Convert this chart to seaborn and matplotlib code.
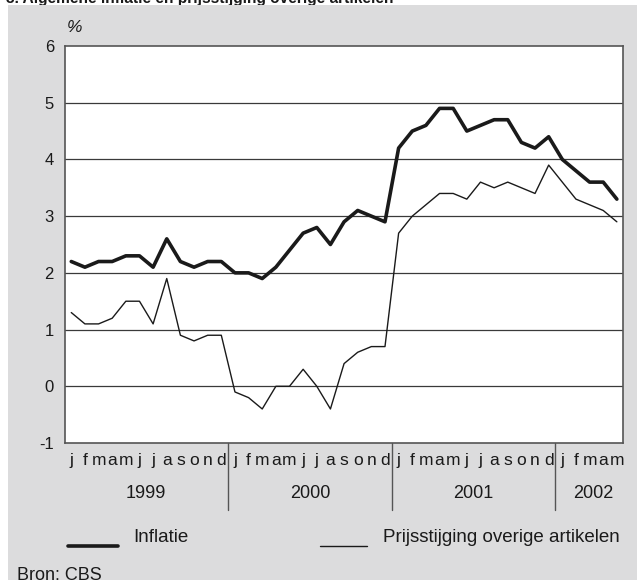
import numpy as np
import pandas as pd
import matplotlib
matplotlib.use("Agg")
import matplotlib.pyplot as plt
import seaborn as sns
from matplotlib.patches import Rectangle
import matplotlib.transforms as mtrans

# ---------------- data ----------------
month_labels = ['j', 'f', 'm', 'a', 'm', 'j', 'j', 'a', 's', 'o', 'n', 'd'] * 3 + ['j', 'f', 'm', 'a', 'm']
year_labels = ['1999', '2000', '2001', '2002']
inflatie = [2.2, 2.1, 2.2, 2.2, 2.3, 2.3, 2.1, 2.6, 2.2, 2.1, 2.2, 2.2,
            2.0, 2.0, 1.9, 2.1, 2.4, 2.7, 2.8, 2.5, 2.9, 3.1, 3.0, 2.9,
            4.2, 4.5, 4.6, 4.9, 4.9, 4.5, 4.6, 4.7, 4.7, 4.3, 4.2, 4.4,
            4.0, 3.8, 3.6, 3.6, 3.3]
overige = [1.3, 1.1, 1.1, 1.2, 1.5, 1.5, 1.1, 1.9, 0.9, 0.8, 0.9, 0.9,
           -0.1, -0.2, -0.4, 0.0, 0.0, 0.3, 0.0, -0.4, 0.4, 0.6, 0.7, 0.7,
           2.7, 3.0, 3.2, 3.4, 3.4, 3.3, 3.6, 3.5, 3.6, 3.5, 3.4, 3.9,
           3.6, 3.3, 3.2, 3.1, 2.9]
series_names = ['Inflatie', 'Prijsstijging overige artikelen']
y_ticks = [-1, 0, 1, 2, 3, 4, 5, 6]

n = len(inflatie)
df = pd.DataFrame({
    'maand': np.arange(n).tolist() * 2,
    'waarde': inflatie + overige,
    'reeks': [series_names[0]] * n + [series_names[1]] * n,
})

# ---------------- style ----------------
sns.set_theme(style="white")
plt.rcParams['font.family'] = ['Liberation Sans', 'DejaVu Sans']

W, H = 637, 580
fig = plt.figure(figsize=(W / 100, H / 100), dpi=100)
fig.patch.set_facecolor('white')

def fy(ypix):
    return 1 - ypix / H

def fx(xpix):
    return xpix / W

GRAY = '#dcdcdd'
INK = '#1a1a1a'

# title (mostly clipped at top, as in reference)
fig.text(fx(6), fy(3), '3. Algemene inflatie en prijsstijging overige artikelen',
         ha='left', va='baseline', fontsize=11.2, fontweight='bold', color=INK, zorder=0)
# gray panel
fig.add_artist(Rectangle((fx(8), 0), 1 - fx(8), fy(5), transform=fig.transFigure,
                         facecolor=GRAY, edgecolor='none', zorder=0.5))

left, right, top, bottom = 65, 623, 46, 443
ax = fig.add_axes([fx(left), fy(bottom), fx(right) - fx(left), fy(top) - fy(bottom)])
ax.set_zorder(1)
ax.set_facecolor('white')

sns.lineplot(data=df, x='maand', y='waarde', hue='reeks', size='reeks',
             sizes={series_names[0]: 2.6, series_names[1]: 1.0},
             palette={series_names[0]: INK, series_names[1]: INK},
             legend=False, ax=ax, zorder=3)

x0 = -0.46
x1 = n - 1 + 0.45
ax.set_xlim(x0, x1)
ax.set_ylim(-1, 6)

for yv in y_ticks[1:-1]:
    ax.axhline(yv, color='#3a3a3a', lw=0.9, zorder=1)

for sp in ax.spines.values():
    sp.set_color('#555555')
    sp.set_linewidth(1.2)
    sp.set_visible(True)

ax.set_yticks(y_ticks)
ax.set_yticklabels([str(v) for v in y_ticks], fontsize=12, color=INK)
ax.tick_params(axis='y', length=0, pad=8)

ax.set_xticks(np.arange(n))
ax.set_xticklabels(month_labels, fontsize=12.5, color=INK)
ax.tick_params(axis='x', direction='out', length=4, width=0.9, color='#555555', pad=3)
ax.set_xlabel('')
ax.set_ylabel('')

# year separators and year labels
trans = mtrans.blended_transform_factory(ax.transData, fig.transFigure)
for sep in [11.5, 23.5, 35.5]:
    ax.plot([sep, sep], [fy(bottom), fy(510)], transform=trans, color='#555555',
            lw=1.0, clip_on=False)
year_centers = [5.5, 17.5, 29.5, 38.3]
for yc, lab in zip(year_centers, year_labels):
    ax.text(yc, fy(494), lab, transform=trans, ha='center', va='center',
            fontsize=13, color=INK)

# percent sign
fig.text(fx(75), fy(28), '%', ha='center', va='center', fontsize=12.5,
         style='italic', color=INK, zorder=3)

# legend
fig.add_artist(plt.Line2D([fx(68), fx(118)], [fy(546), fy(546)], transform=fig.transFigure,
                          color=INK, lw=2.6, zorder=3))
fig.text(fx(133), fy(538), series_names[0], ha='left', va='center', fontsize=13.5,
         color=INK, zorder=3)
fig.add_artist(plt.Line2D([fx(320), fx(367)], [fy(546), fy(546)], transform=fig.transFigure,
                          color=INK, lw=1.0, zorder=3))
fig.text(fx(383), fy(538), series_names[1], ha='left', va='center', fontsize=13.5,
         color=INK, zorder=3)

# source
fig.text(fx(17), fy(575), 'Bron: CBS', ha='left', va='center', fontsize=13,
         color=INK, zorder=3)

fig.savefig('out.png', dpi=100, facecolor=fig.get_facecolor())
